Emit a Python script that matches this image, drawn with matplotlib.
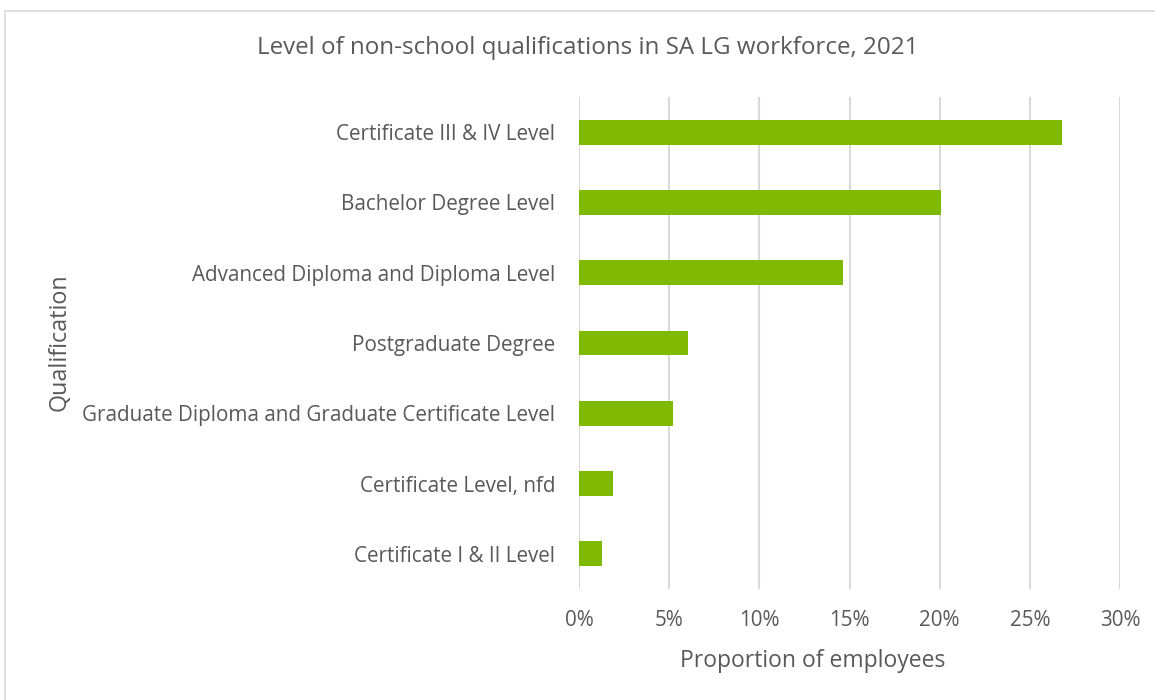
import matplotlib
matplotlib.use("Agg")
from matplotlib import pyplot as plt
from matplotlib.patches import Rectangle
from matplotlib.ticker import PercentFormatter

categories = [
    "Certificate III & IV Level",
    "Bachelor Degree Level",
    "Advanced Diploma and Diploma Level",
    "Postgraduate Degree",
    "Graduate Diploma and Graduate Certificate Level",
    "Certificate Level, nfd",
    "Certificate I & II Level",
]
proportions = [26.8, 20.1, 14.65, 6.05, 5.2, 1.9, 1.3]
xticks = [0, 5, 10, 15, 20, 25, 30]

TEXT = "#595959"
GRID = "#d9d9d9"
GREEN = "#7fba00"

plt.rcParams['font.family'] = ['Open Sans', 'DejaVu Sans']

W, H = 1155, 700
fig = plt.figure(figsize=(W / 100, H / 100), dpi=100)

# chart area border
fig.patches.append(Rectangle((4.5 / W, -0.01), 1.1, (H - 10.5) / H + 0.01,
                             transform=fig.transFigure, fill=False,
                             edgecolor=GRID, linewidth=1.2))

ax = fig.add_axes([579 / W, 1 - 589 / H, (1120 - 579) / W, (589 - 97) / H])
pos = list(range(len(categories)))
ax.barh(pos, proportions, height=0.355, color=GREEN, zorder=3)
ax.set_ylim(len(categories) - 0.5, -0.5)
ax.set_xlim(0, 30)
ax.set_xticks(xticks)
ax.xaxis.set_major_formatter(PercentFormatter(decimals=0))
ax.set_yticks(pos)
ax.set_yticklabels(categories)
ax.grid(axis="x", color=GRID, linewidth=1.5, zorder=0)
for s in ax.spines.values():
    s.set_visible(False)
ax.tick_params(axis="both", length=0, labelsize=14.9, labelcolor=TEXT)
ax.tick_params(axis="y", pad=17)
ax.tick_params(axis="x", pad=15)

fig.text(588 / W, 1 - 48 / H, "Level of non-school qualifications in SA LG workforce, 2021",
         ha="center", va="center", fontsize=17.4, color=TEXT)
fig.text(813 / W, 1 - 661 / H, "Proportion of employees",
         ha="center", va="center", fontsize=16.5, color=TEXT)
fig.text(60 / W, 1 - 342 / H, "Qualification", rotation=90,
         ha="center", va="center", fontsize=16.8, color=TEXT)

fig.savefig("out.png", dpi=100)
